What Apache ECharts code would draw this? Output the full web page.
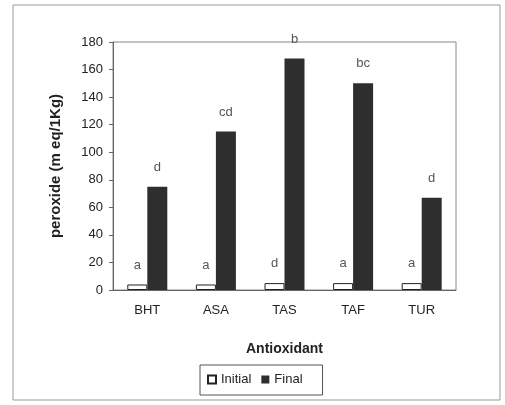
<!DOCTYPE html>
<html><head><meta charset="utf-8">
<script src="https://cdn.jsdelivr.net/npm/echarts@6/dist/echarts.min.js"></script>
<style>html,body{margin:0;padding:0;background:#fff}#c{width:505px;height:405px}</style>
</head><body><div id="c"></div>
<script>
const categories = ['BHT','ASA','TAS','TAF','TUR'];
const initialValues = [4, 4, 5, 5, 5];
const finalValues = [75, 115, 168, 150, 67];
const initialLetters = ['a','a','d','a','a'];
const finalLetters = ['d','cd','b','bc','d'];
const yTicks = [0,20,40,60,80,100,120,140,160,180];

const chart = echarts.init(document.getElementById('c'));
const font = 'Liberation Sans, Arial, sans-serif';
chart.setOption({
  animation: false,
  graphic: [{type:'rect', shape:{x:13,y:5,width:487,height:395}, style:{fill:'none', stroke:'#999', lineWidth:1}, z:-1}],
  grid: {left:113, right:49, top:42, bottom:115, show:true, borderColor:'#888', borderWidth:1},
  legend: {
    top: 365, left: 200,
    data: [{name:'Initial', icon:'rect'},{name:'Final', icon:'rect'}],
    itemWidth: 8, itemHeight: 8, itemGap: 10,
    padding: [8,20,9,7],
    borderColor: '#555', borderWidth: 1,
    textStyle: {fontFamily: font, fontSize: 13, color:'#222', padding:[0,0,0,0]}
  },
  xAxis: {
    type:'category', data: categories,
    name:'Antioxidant', nameLocation:'middle', nameGap:52,
    nameTextStyle:{fontFamily:font, fontSize:14, fontWeight:'bold', color:'#222'},
    axisLine:{lineStyle:{color:'#666'}},
    axisTick:{show:false},
    axisLabel:{fontFamily:font, fontSize:13, color:'#222', margin:14}
  },
  yAxis: {
    type:'value', min:0, max:180, interval:20,
    name:'peroxide (m eq/1Kg)', nameLocation:'middle', nameGap:50, nameRotate:90,
    nameTextStyle:{fontFamily:font, fontSize:15, fontWeight:'bold', color:'#222'},
    axisLine:{show:true, lineStyle:{color:'#666'}},
    axisTick:{show:true, inside:false, length:4, lineStyle:{color:'#666'}},
    splitLine:{show:false},
    axisLabel:{fontFamily:font, fontSize:13, color:'#222', margin:10,
      formatter: v => yTicks.includes(v) ? String(v) : ''}
  },
  series: [
    {name:'Initial', type:'bar', data: initialValues, barWidth:20, barGap:'0%',
     itemStyle:{color:'#fff', borderColor:'#222', borderWidth:1},
     label:{show:true, position:'top', distance:13, fontFamily:font, fontSize:13, color:'#555',
       formatter: p => initialLetters[p.dataIndex]}},
    {name:'Final', type:'bar', data: finalValues, barWidth:20,
     itemStyle:{color:'#2e2e2e'},
     label:{show:true, position:'top', distance:13, fontFamily:font, fontSize:13, color:'#555',
       formatter: p => finalLetters[p.dataIndex]}}
  ]
});
</script></body></html>
